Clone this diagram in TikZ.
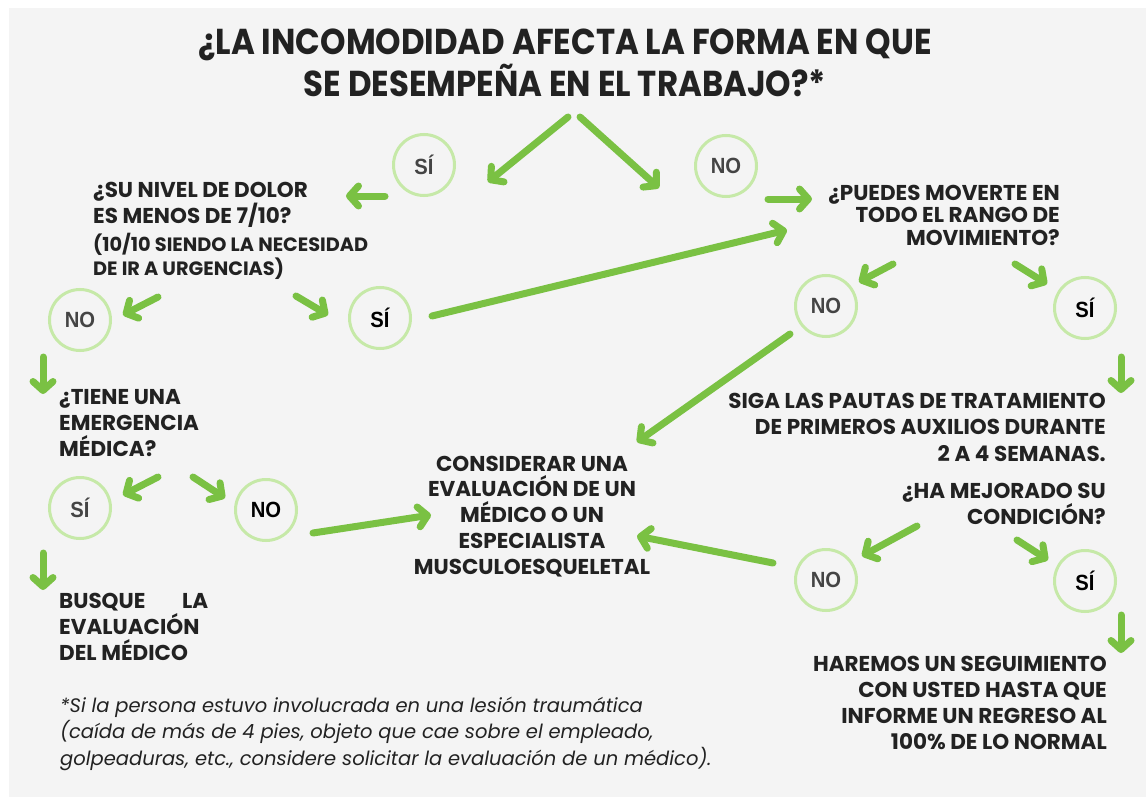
\documentclass[tikz,border=0pt]{standalone}
\usepackage{fontspec}
\setmainfont{Poppins}
\newfontfamily\titlefont[FakeStretch=0.9]{Poppins}
\newfontfamily\circfont[FakeStretch=0.92]{Liberation Sans}
\usetikzlibrary{arrows.meta}
\definecolor{fondo}{HTML}{F4F4F4}
\definecolor{verde}{HTML}{7AC143}
\definecolor{verdeclaro}{HTML}{C6E9A8}
\definecolor{tinta}{HTML}{222222}
\definecolor{gris}{HTML}{444444}
\tikzset{
  flecha/.style={draw=verde, line width=7pt, line cap=round,
    -{Straight Barb[length=9pt,width=20pt,round]}},
  circulo/.style={circle, draw=verdeclaro, line width=3pt, minimum size=61pt,
    inner sep=0pt, font=\circfont\bfseries\fontsize{22}{22}\selectfont, text=gris},
  oscuro/.style={text=black},
  pregunta/.style={font=\bfseries\fontsize{21.5}{26}\selectfont, text=tinta, inner sep=0pt},
}

\begin{document}
\begin{tikzpicture}[x=1pt,y=-1pt]
\useasboundingbox (0,0) rectangle (1146,797);
\fill[white] (0,0) rectangle (1146,797);
\fill[fondo] (9,8) rectangle (1146,797);

% titulo (base = ultima linea)
\node[pregunta, anchor=base, align=center, font=\titlefont\bfseries\fontsize{36}{42}\selectfont] (titulo) at (565,97)
  {¿LA INCOMODIDAD AFECTA LA FORMA EN QUE\\SE DESEMPEÑA EN EL TRABAJO?*};

% preguntas y respuestas
\node[pregunta, anchor=base west, align=left] (dolor) at (93,223) {¿SU NIVEL DE DOLOR\\ES MENOS DE 7/10?};
\node[pregunta, anchor=base west, align=left, font=\bfseries\fontsize{19.3}{24}\selectfont] (escala) at (93,275)
  {(10/10 SIENDO LA NECESIDAD\\DE IR A URGENCIAS)};
\node[pregunta, anchor=base east, align=right, font=\bfseries\fontsize{21.5}{22.5}\selectfont] (moverse) at (1060,245)
  {¿PUEDES MOVERTE EN\\TODO EL RANGO DE\\MOVIMIENTO?};
\node[pregunta, anchor=base west, align=left] (emergencia) at (59,456) {¿TIENE UNA\\EMERGENCIA\\MÉDICA?};
\node[pregunta, anchor=base west, align=left] (busque) at (59,660)
  {\makebox[149pt][s]{BUSQUE\hfill LA}\\EVALUACIÓN\\DEL MÉDICO};
\node[pregunta, anchor=base east, align=right, font=\bfseries\fontsize{21.5}{26.5}\selectfont] (pautas) at (1106,461)
  {SIGA LAS PAUTAS DE TRATAMIENTO\\DE PRIMEROS AUXILIOS DURANTE\\2 A 4 SEMANAS.};
\node[pregunta, anchor=base east, align=right] (mejorado) at (1106,524) {¿HA MEJORADO SU\\CONDICIÓN?};
\node[pregunta, anchor=base, align=center, font=\bfseries\fontsize{21.5}{25.7}\selectfont] (especialista) at (532,574)
  {CONSIDERAR UNA\\EVALUACIÓN DE UN\\MÉDICO O UN\\ESPECIALISTA\\MUSCULOESQUELETAL};
\node[pregunta, anchor=base east, align=right] (seguimiento) at (1107,749)
  {HAREMOS UN SEGUIMIENTO\\CON USTED HASTA QUE\\INFORME UN REGRESO AL\\100\% DE LO NORMAL};

% circulos
\node[circulo] (si1) at (424,165) {SÍ};
\node[circulo] (no1) at (726,166) {NO};
\node[circulo] (no2) at (80,320) {NO};
\node[circulo, oscuro] (si2) at (380,318) {SÍ};
\node[circulo] (no3) at (826,306) {NO};
\node[circulo, oscuro] (si3) at (1085,308) {SÍ};
\node[circulo] (si4) at (80,508) {SÍ};
\node[circulo, oscuro] (no4) at (266,510) {NO};
\node[circulo] (no5) at (826,580) {NO};
\node[circulo, oscuro] (si5) at (1085,581) {SÍ};

% extremos de las flechas
\coordinate (t1) at (568,117);  \coordinate (h1) at (488,182);
\coordinate (t2) at (580,117);  \coordinate (h2) at (659,188);
\coordinate (t3) at (385,196);  \coordinate (h3) at (346,196);
\coordinate (t4) at (768,199);  \coordinate (h4) at (812,199);
\coordinate (t5) at (432,316);  \coordinate (h5) at (787,230);
\coordinate (t6) at (158,297);  \coordinate (h6) at (123,315);
\coordinate (t7) at (296,296);  \coordinate (h7) at (328,315);
\coordinate (t8) at (893,264);  \coordinate (h8) at (859,282);
\coordinate (t9) at (1015,264); \coordinate (h9) at (1047,284);
\coordinate (t10) at (790,334); \coordinate (h10) at (637,442);
\coordinate (t11) at (1121,357); \coordinate (h11) at (1121,393);
\coordinate (t12) at (43,357);  \coordinate (h12) at (43,394);
\coordinate (t13) at (158,477); \coordinate (h13) at (123,495);
\coordinate (t14) at (193,477); \coordinate (h14) at (225,498);
\coordinate (t15) at (43,553);  \coordinate (h15) at (43,590);
\coordinate (t16) at (313,533); \coordinate (h16) at (431,515);
\coordinate (t17) at (773,563); \coordinate (h17) at (637,536);
\coordinate (t18) at (917,526); \coordinate (h18) at (862,556);
\coordinate (t19) at (1017,540); \coordinate (h19) at (1048,560);
\coordinate (t20) at (1121,615); \coordinate (h20) at (1121,653);

\foreach \i in {1,...,20}
  \draw[flecha] (t\i) -- (h\i);

% nota al pie
\node[anchor=base west, align=left, inner sep=0pt, text=tinta, font=\itshape\fontsize{19.5}{26.5}\selectfont] (nota) at (60,765)
  {*Si la persona estuvo involucrada en una lesión traumática\\(caída de más de 4 pies, objeto que cae sobre el empleado,\\golpeaduras, etc., considere solicitar la evaluación de un médico).};
\end{tikzpicture}
\end{document}
